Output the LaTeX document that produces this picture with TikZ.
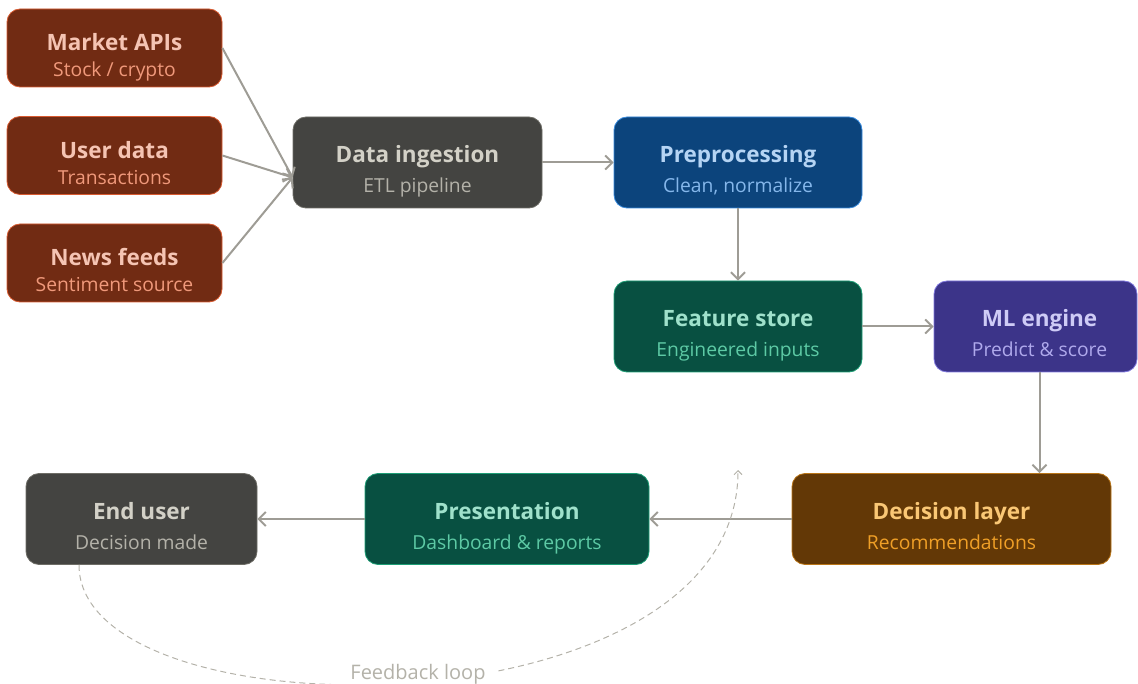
\documentclass[tikz,border=0pt]{standalone}
\usepackage{fontspec}
\setmainfont{Open Sans}
\usetikzlibrary{arrows.meta}

% palette
\definecolor{coralF}{HTML}{712B13}\definecolor{coralB}{HTML}{D85A30}
\definecolor{coralT}{HTML}{F5C4B3}\definecolor{coralS}{HTML}{F0997B}
\definecolor{grayF}{HTML}{444441}\definecolor{grayB}{HTML}{6E6D66}
\definecolor{grayT}{HTML}{D3D1C7}\definecolor{grayS}{HTML}{B4B2A9}
\definecolor{blueF}{HTML}{0C447C}\definecolor{blueB}{HTML}{378ADD}
\definecolor{blueT}{HTML}{B5D4F4}\definecolor{blueS}{HTML}{85B7EB}
\definecolor{tealF}{HTML}{085041}\definecolor{tealB}{HTML}{1D9E75}
\definecolor{tealT}{HTML}{9FE1CB}\definecolor{tealS}{HTML}{5DCAA5}
\definecolor{purpF}{HTML}{3C3489}\definecolor{purpB}{HTML}{7F77DD}
\definecolor{purpT}{HTML}{CECBF6}\definecolor{purpS}{HTML}{AFA9EC}
\definecolor{ambF}{HTML}{633806}\definecolor{ambB}{HTML}{BA7517}
\definecolor{ambT}{HTML}{FAC775}\definecolor{ambS}{HTML}{EF9F27}
\definecolor{linkC}{HTML}{9E9C95}
\definecolor{loopC}{HTML}{B4B2A9}

\tikzset{
  box/.style={rectangle, rounded corners=13pt, line width=0.8pt, inner sep=0pt},
  srcbox/.style={box, fill=coralF, draw=coralB, minimum width=215pt, minimum height=78pt},
  bigbox/.style={box, minimum height=91pt},
  ttl/.style={anchor=base, inner sep=0pt, font=\fontsize{22.5}{26}\selectfont\bfseries},
  sub/.style={anchor=base, inner sep=0pt, font=\fontsize{19.3}{23}\selectfont},
  link/.style={draw=linkC, line width=2pt, -{Straight Barb[length=7pt,width=14pt,line width=2pt]}},
  feedback/.style={draw=loopC, line width=1pt, dash pattern=on 6pt off 4pt,
    -{Straight Barb[length=4pt,width=8pt,line width=1pt]}},
}

\begin{document}
\begin{tikzpicture}[x=1pt,y=-1pt]
\useasboundingbox (0,0) rectangle (1138,684);

% source boxes
\node[srcbox] (mkt)  at (114.5,48)  {};
\node[srcbox] (usr)  at (114.5,155.5) {};
\node[srcbox] (news) at (114.5,263) {};
\foreach \n/\t/\s in {mkt/Market APIs/{Stock / crypto}, usr/User data/Transactions, news/News feeds/Sentiment source}{
  \node[ttl, text=coralT] (\n-t) at ([yshift=-42pt]\n.north) {\t};
  \node[sub, text=coralS] (\n-s) at ([yshift=-68pt]\n.north) {\s};
}

% pipeline boxes
\node[bigbox, fill=grayF, draw=grayB, minimum width=249pt] (ing)  at (417.5,162.5) {};
\node[bigbox, fill=blueF, draw=blueB, minimum width=248pt] (pre)  at (738,162.5) {};
\node[bigbox, fill=tealF, draw=tealB, minimum width=248pt] (feat) at (738,326.5) {};
\node[bigbox, fill=purpF, draw=purpB, minimum width=203pt] (ml)   at (1035.5,326.5) {};
\node[bigbox, fill=ambF,  draw=ambB,  minimum width=319pt] (dec)  at (951.5,519) {};
\node[bigbox, fill=tealF, draw=tealB, minimum width=284pt] (pres) at (507,519) {};
\node[bigbox, fill=grayF, draw=grayB, minimum width=231pt] (end)  at (141.5,519) {};

\foreach \n/\t/\s/\ct/\cs in {
  ing/Data ingestion/ETL pipeline/grayT/grayS,
  pre/Preprocessing/{Clean, normalize}/blueT/blueS,
  feat/Feature store/Engineered inputs/tealT/tealS,
  dec/Decision layer/Recommendations/ambT/ambS,
  pres/Presentation/Dashboard \& reports/tealT/tealS,
  end/End user/Decision made/grayT/grayS}{
  \node[ttl, text=\ct] (\n-t) at ([yshift=-46pt]\n.north) {\t};
  \node[sub, text=\cs] (\n-s) at ([yshift=-76pt]\n.north) {\s};
}
\node[ttl, text=purpT] (ml-t) at ([yshift=-46pt,xshift=4pt]ml.north) {ML engine};
\node[sub, text=purpS] (ml-s) at ([yshift=-76pt,xshift=4pt]ml.north) {Predict \& score};

% connectors
\coordinate (hub) at ([yshift=-15pt]ing.west);
\draw[link] (mkt.east)  -- (hub);
\draw[link] (usr.east)  -- (hub);
\draw[link] (news.east) -- (hub);
\draw[link] (ing.east)  -- (pre.west);
\draw[link] (pre.south) -- (feat.north);
\draw[link] (feat.east) -- (ml.west);
\coordinate (mlout) at ([xshift=4pt]ml.south);
\draw[link] (mlout) -- (mlout |- dec.north);
\draw[link] (dec.west)  -- (pres.east);
\draw[link] (pres.west) -- (end.east);

% feedback loop
\coordinate (fbstart) at ([xshift=-62.5pt]end.south);
\coordinate (fbend) at (738,470);
\draw[feedback] (fbstart) .. controls (79,738) and (738,738) .. (fbend);
\node[fill=white, text=loopC, inner sep=0pt, minimum width=160pt, minimum height=30pt,
      font=\fontsize{20}{24}\selectfont] (fbl) at (418,674) {Feedback loop};
\end{tikzpicture}
\end{document}
